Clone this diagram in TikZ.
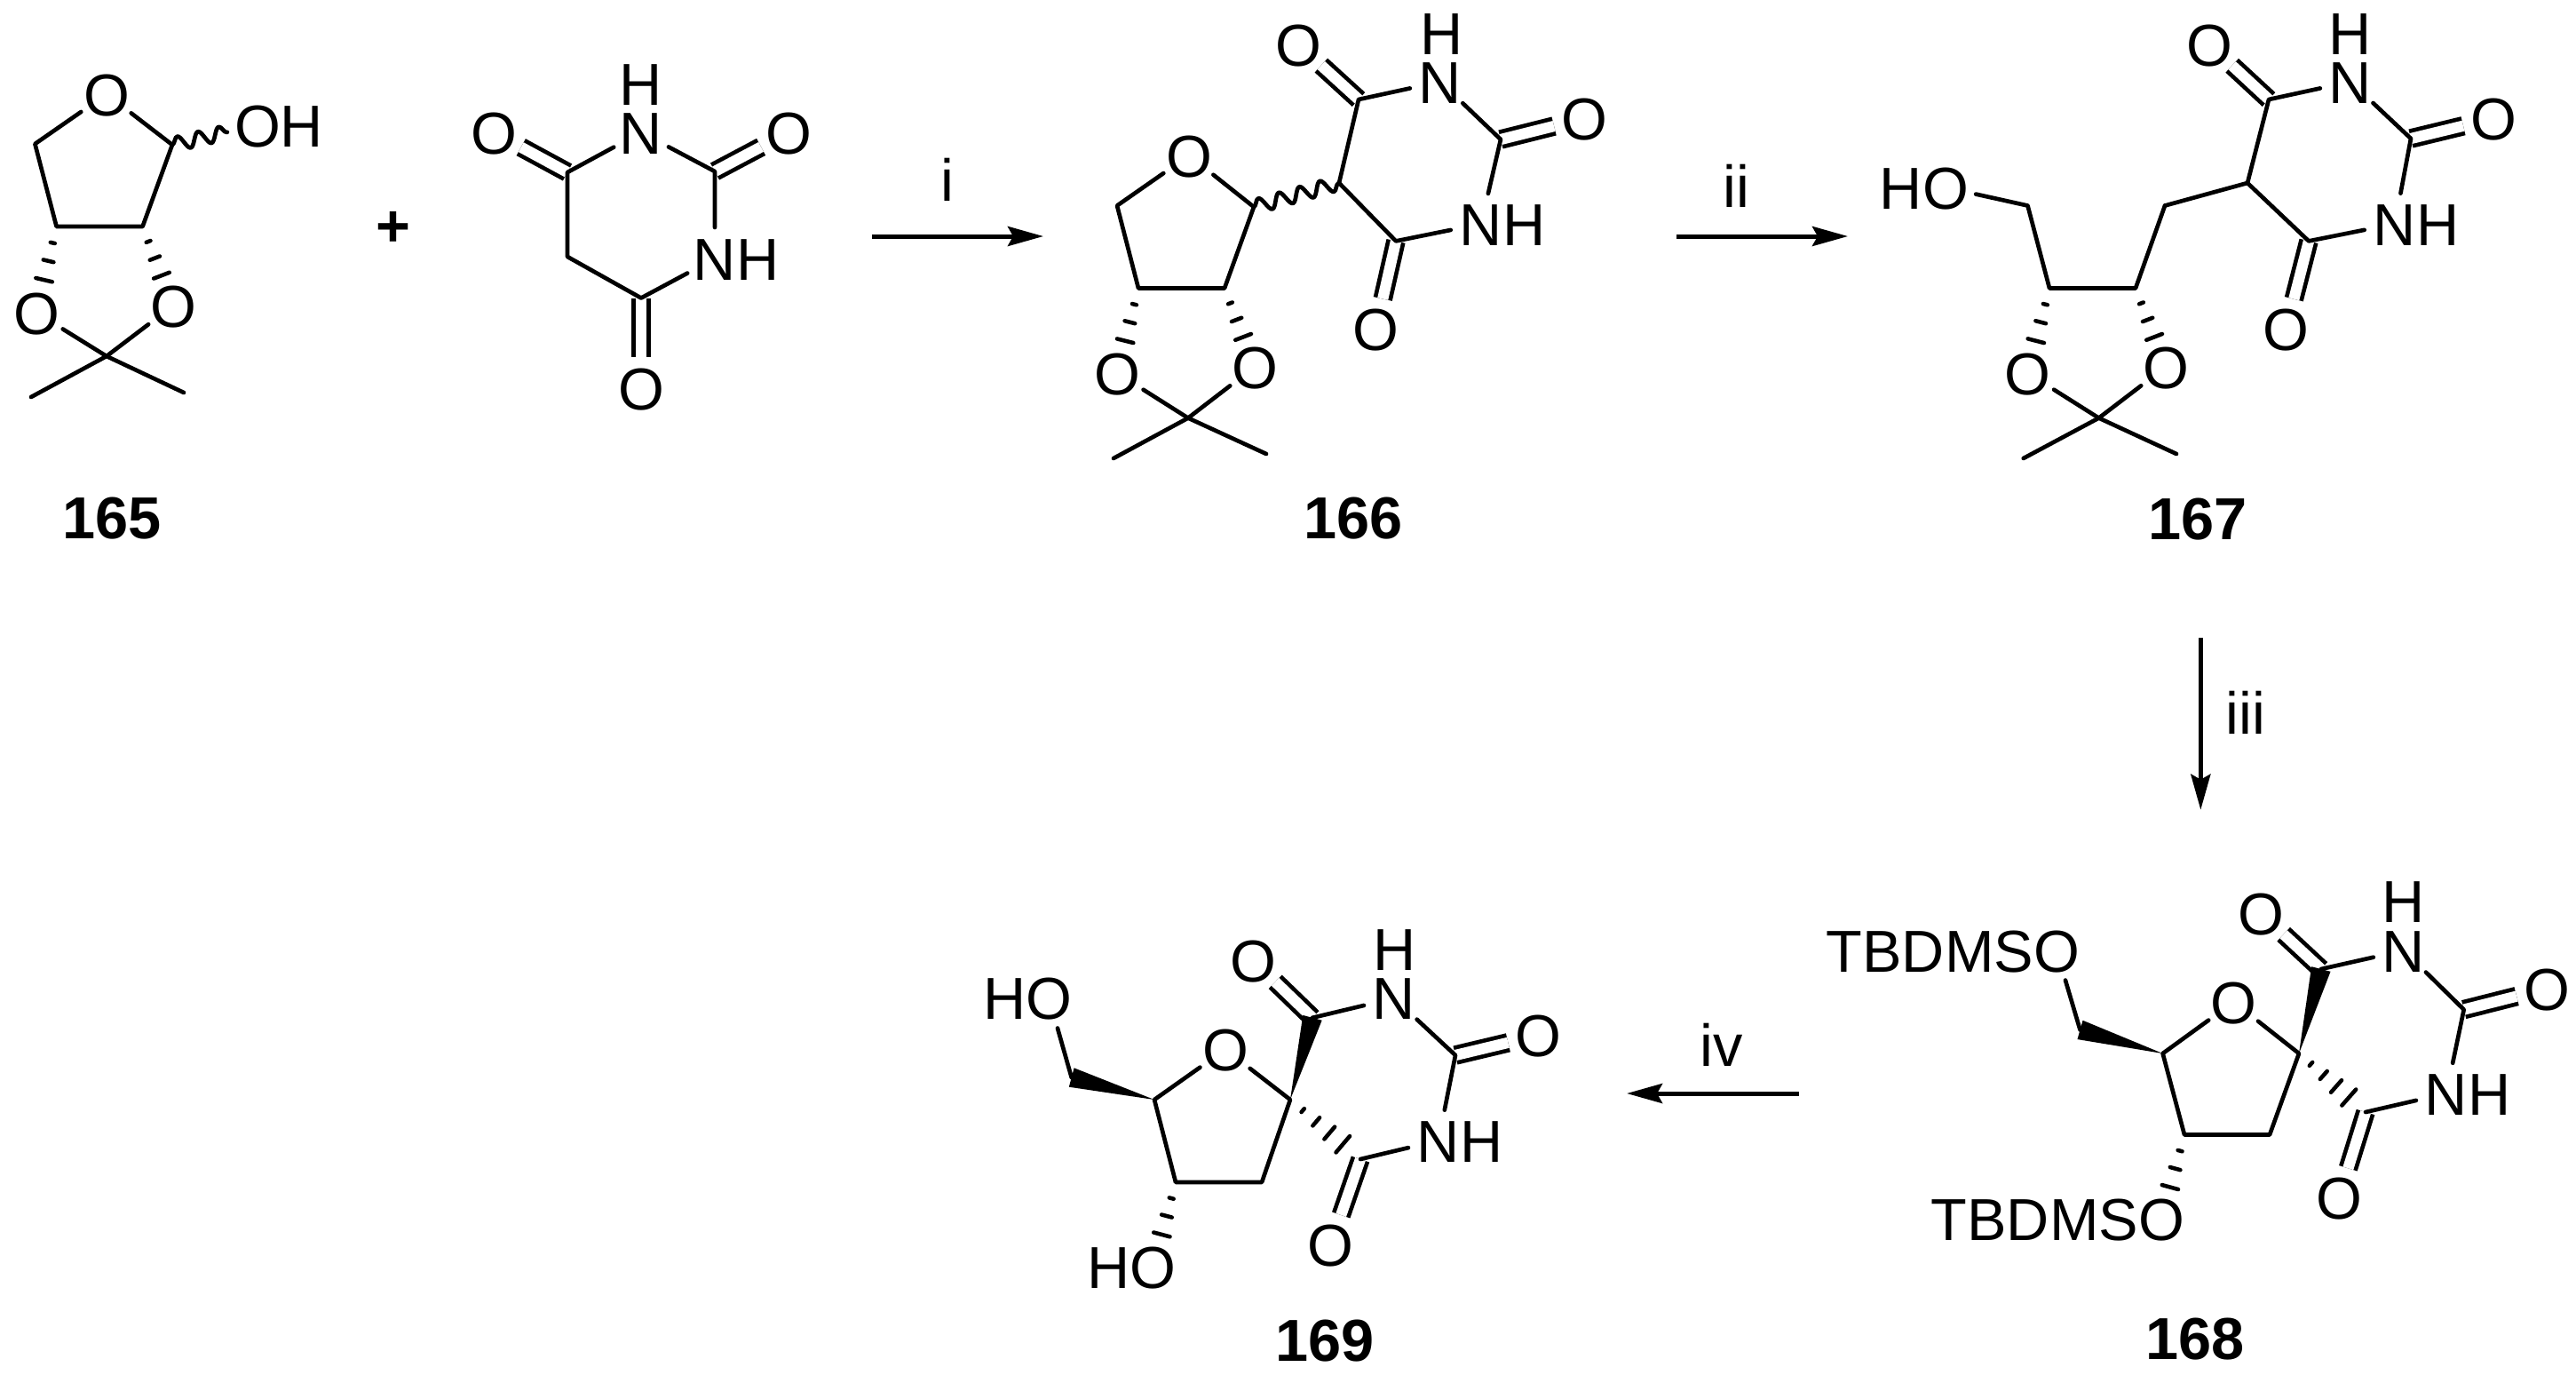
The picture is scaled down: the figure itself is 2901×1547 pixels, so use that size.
\documentclass[tikz,border=0pt]{standalone}
\usepackage{fontspec}
\setmainfont{Liberation Sans}
\usetikzlibrary{calc,arrows.meta,decorations.pathmorphing}

\newlength{\pix}
\setlength{\pix}{0.75pt}
\newcommand{\atomlab}[3]{\smash{\raisebox{-24\pix}{\makebox[0pt][c]{\phantom{#3}#1#2#3\phantom{#1}}}}}
\newcommand{\hashbond}[3]{\foreach \hpos/\hwid in #3 {\coordinate (hc) at ($(#1)!\hpos!(#2)$); \draw[hash] ($(hc)!\hwid pt!90:(#2)$) -- ($(hc)!\hwid pt!-90:(#2)$);}}
\newcommand{\wedgebond}[2]{\fill ($(#2)!8.3pt!90:(#1)$) -- ($(#2)!8.3pt!-90:(#1)$) -- (#1) -- cycle;}
\def\hashO{.19/1.9,.40/4.5,.62/7.1}
\def\hashC{.18/1.9,.37/4.5,.56/6.8,.75/9}
\tikzset{
  bond/.style={line width=3.5pt,line cap=round,line join=round},
  dbl/.style={line width=3.5pt,double,double distance=9.2pt},
  hash/.style={line width=3.4pt,line cap=round},
  wavy/.style={bond,decorate,decoration={snake,segment length=18pt,amplitude=6pt}},
  atom/.style={circle,inner sep=0pt,outer sep=0pt,minimum size=52.5pt,font=\fontsize{50}{60}\selectfont},
  cmpd/.style={inner sep=0pt,font=\fontsize{50}{60}\selectfont\bfseries},
  reag/.style={inner sep=0pt,font=\fontsize{50}{60}\selectfont},
  rxn/.style={line width=3.75pt,-{Stealth[length=30pt,width=16.5pt,inset=4.5pt]}}
}

\begin{document}
\begin{tikzpicture}[x=0.75pt,y=0.75pt,yscale=-1,xscale=1]
\useasboundingbox (0,0) rectangle (2901,1547);

%Compound 165 and the second reactant
\node[atom] (o1a) at (120,106) {\atomlab{}{O}{}};
\node[atom] (oha) at (290,141) {\atomlab{}{O}{H}};
\node[atom] (o2a) at (195,344) {\atomlab{}{O}{}};
\node[atom] (o3a) at (41,352) {\atomlab{}{O}{}};
\coordinate (c1a) at (194,163); \coordinate (c2a) at (160.6,255);
\coordinate (c3a) at (63.6,255); \coordinate (c4a) at (39.4,162);
\coordinate (cqa) at (120,401); \coordinate (me1a) at (35,447); \coordinate (me2a) at (207,442);
\draw[bond] (o1a) -- (c1a) -- (c2a) -- (c3a) -- (c4a) -- (o1a);
\draw[wavy] (c1a) -- (oha);
\hashbond{c2a}{o2a}{\hashO}
\hashbond{c3a}{o3a}{\hashO}
\draw[bond] (o3a) -- (cqa) -- (o2a);
\draw[bond] (me1a) -- (cqa) -- (me2a);

\node[atom] (h1b) at (722,94) {\atomlab{}{H}{}};
\node[atom] (n1b) at (722,149) {\atomlab{}{N}{}};
\node[atom] (n3b) at (805,291) {\atomlab{}{N}{H}};
\node[atom] (o4b) at (556,149) {\atomlab{}{O}{}};
\node[atom] (o2b) at (888,149) {\atomlab{}{O}{}};
\node[atom] (o6b) at (722,437) {\atomlab{}{O}{}};
\coordinate (c4b) at (639,194); \coordinate (c2b) at (805,193);
\coordinate (c5b) at (639,289); \coordinate (c6b) at (722,335.5);
\draw[dbl] (c4b) -- (o4b);
\draw[dbl] (c2b) -- (o2b);
\draw[dbl] (c6b) -- (o6b);
\draw[bond] (n1b) -- (c4b) -- (c5b) -- (c6b) -- (n3b) -- (c2b) -- (n1b);

% Text Node
\node[cmpd] (plus) at (443,258) {+};
\node[cmpd] (lab165) at (126,584) {165};

%Reaction arrow i
\coordinate (i1) at (982,266); \coordinate (i2) at (1175,266);
\draw[rxn] (i1) -- (i2);
\node[reag] (labi) at (1067,202) {i};

%Compound 166
\node[atom] (o1c) at (1339,175) {\atomlab{}{O}{}};
\node[atom] (o2c) at (1413,413) {\atomlab{}{O}{}};
\node[atom] (o3c) at (1258,420) {\atomlab{}{O}{}};
\coordinate (c1c) at (1412,233); \coordinate (c2c) at (1379,324.5);
\coordinate (c3c) at (1282,324.5); \coordinate (c4c) at (1258,231.5);
\coordinate (cqc) at (1338,470.6); \coordinate (me1c) at (1254,516); \coordinate (me2c) at (1426,511);
\draw[bond] (o1c) -- (c1c) -- (c2c) -- (c3c) -- (c4c) -- (o1c);
\hashbond{c2c}{o2c}{\hashO}
\hashbond{c3c}{o3c}{\hashO}
\draw[bond] (o3c) -- (cqc) -- (o2c);
\draw[bond] (me1c) -- (cqc) -- (me2c);
\node[atom] (h1c) at (1623.5,37) {\atomlab{}{H}{}};
\node[atom] (n1c) at (1622,92) {\atomlab{}{N}{}};
\node[atom] (n3c) at (1668,252) {\atomlab{}{N}{H}};
\node[atom] (o4c) at (1462,50) {\atomlab{}{O}{}};
\node[atom] (o2pc) at (1784,133.5) {\atomlab{}{O}{}};
\node[atom] (o6c) at (1549.5,370.6) {\atomlab{}{O}{}};
\coordinate (c5c) at (1508,206); \coordinate (c4pc) at (1530,112);
\coordinate (c2pc) at (1690,157); \coordinate (c6c) at (1572,271.4);
\draw[dbl] (c4pc) -- (o4c);
\draw[dbl] (c2pc) -- (o2pc);
\draw[dbl] (c6c) -- (o6c);
\draw[bond] (n1c) -- (c4pc) -- (c5c) -- (c6c) -- (n3c) -- (c2pc) -- (n1c);
\draw[wavy] (c1c) -- (c5c);
\node[cmpd] (lab166) at (1524,584) {166};

%Reaction arrow ii
\coordinate (ii1) at (1888,266); \coordinate (ii2) at (2081,266);
\draw[rxn] (ii1) -- (ii2);
\node[reag] (labii) at (1955,209) {ii};

%Compound 167
\node[atom] (ohd) at (2191,211) {\atomlab{H}{O}{}};
\node[atom] (o2d) at (2439,413) {\atomlab{}{O}{}};
\node[atom] (o3d) at (2283.5,420) {\atomlab{}{O}{}};
\coordinate (c4d) at (2283.5,231.5); \coordinate (c3d) at (2308,324.5);
\coordinate (c2d) at (2405,324.5); \coordinate (c1d) at (2438,231.5);
\coordinate (cqd) at (2363.6,470.6); \coordinate (me1d) at (2278.7,516); \coordinate (me2d) at (2451,511);
\draw[bond] (ohd) -- (c4d) -- (c3d) -- (c2d) -- (c1d);
\hashbond{c2d}{o2d}{\hashO}
\hashbond{c3d}{o3d}{\hashO}
\draw[bond] (o3d) -- (cqd) -- (o2d);
\draw[bond] (me1d) -- (cqd) -- (me2d);
\node[atom] (h1d) at (2647,37) {\atomlab{}{H}{}};
\node[atom] (n1d) at (2647,92) {\atomlab{}{N}{}};
\node[atom] (n3d) at (2697,252) {\atomlab{}{N}{H}};
\node[atom] (o4d) at (2488,50) {\atomlab{}{O}{}};
\node[atom] (o2pd) at (2808,133.5) {\atomlab{}{O}{}};
\node[atom] (o6d) at (2574.6,370.6) {\atomlab{}{O}{}};
\coordinate (c5d) at (2531,206); \coordinate (c4pd) at (2555,112);
\coordinate (c2pd) at (2715,156); \coordinate (c6d) at (2600,271.4);
\draw[dbl] (c4pd) -- (o4d);
\draw[dbl] (c2pd) -- (o2pd);
\draw[dbl] (c6d) -- (o6d);
\draw[bond] (n1d) -- (c4pd) -- (c5d) -- (c6d) -- (n3d) -- (c2pd) -- (n1d);
\draw[bond] (c1d) -- (c5d);
\node[cmpd] (lab167) at (2474.6,584.5) {167};

%Reaction arrow iii
\coordinate (iii1) at (2478.3,718); \coordinate (iii2) at (2478.3,911.7);
\draw[rxn] (iii1) -- (iii2);
\node[reag] (labiii) at (2529,802) {iii};

%Compound 168
\node[atom] (o1e) at (2515.5,1128) {\atomlab{}{O}{}};
\node[atom] (o5e) at (2316,1070) {\atomlab{TBDMS}{O}{}};
\node[atom] (o3e) at (2434,1372.7) {\atomlab{TBDMS}{O}{}};
\coordinate (c1e) at (2589,1186); \coordinate (c4e) at (2556,1277.5);
\coordinate (c3e) at (2460,1277.5); \coordinate (c2e) at (2435.6,1186);
\coordinate (ch2e) at (2342.5,1159.4); \coordinate (c4pe) at (2613.8,1091);
\coordinate (c6e) at (2664,1252); \coordinate (c2pe) at (2774.7,1136.6);
\node[atom] (h1e) at (2707,1014.7) {\atomlab{}{H}{}};
\node[atom] (n1e) at (2707,1070) {\atomlab{}{N}{}};
\node[atom] (n3e) at (2755,1231) {\atomlab{}{N}{H}};
\node[atom] (o4e) at (2546,1028) {\atomlab{}{O}{}};
\node[atom] (o2pe) at (2868,1113) {\atomlab{}{O}{}};
\node[atom] (o6e) at (2634,1348.7) {\atomlab{}{O}{}};
\draw[dbl] (c4pe) -- (o4e);
\draw[dbl] (c2pe) -- (o2pe);
\draw[dbl] (c6e) -- (o6e);
\draw[bond] (o1e) -- (c1e) -- (c4e) -- (c3e) -- (c2e) -- (o1e);
\draw[bond] (ch2e) -- (o5e);
\wedgebond{c2e}{ch2e}
\wedgebond{c1e}{c4pe}
\hashbond{c3e}{o3e}{\hashO}
\hashbond{c1e}{c6e}{\hashC}
\draw[bond] (n1e) -- (c4pe);
\draw[bond] (c6e) -- (n3e) -- (c2pe) -- (n1e);
\node[cmpd] (lab168) at (2472,1508) {168};

%Reaction arrow iv
\coordinate (iv1) at (2026,1231); \coordinate (iv2) at (1832,1231);
\draw[rxn] (iv1) -- (iv2);
\node[reag] (labiv) at (1939,1176) {iv};

%Compound 169
\node[atom] (o1f) at (1380,1181.4) {\atomlab{}{O}{}};
\node[atom] (o5f) at (1181.4,1123.8) {\atomlab{H}{O}{}};
\node[atom] (o3f) at (1298.8,1426) {\atomlab{H}{O}{}};
\coordinate (c1f) at (1453,1238); \coordinate (c4f) at (1421,1331);
\coordinate (c3f) at (1324,1331); \coordinate (c2f) at (1300,1238);
\coordinate (ch2f) at (1206.7,1213); \coordinate (c4pf) at (1478,1145.8);
\coordinate (c6f) at (1532,1305); \coordinate (c2pf) at (1639,1188);
\node[atom] (h1f) at (1571,1068) {\atomlab{}{H}{}};
\node[atom] (n1f) at (1570,1123.8) {\atomlab{}{N}{}};
\node[atom] (n3f) at (1620,1284) {\atomlab{}{N}{H}};
\node[atom] (o4f) at (1411,1081) {\atomlab{}{O}{}};
\node[atom] (o2pf) at (1732.4,1165.7) {\atomlab{}{O}{}};
\node[atom] (o6f) at (1498.8,1401) {\atomlab{}{O}{}};
\draw[dbl] (c4pf) -- (o4f);
\draw[dbl] (c2pf) -- (o2pf);
\draw[dbl] (c6f) -- (o6f);
\draw[bond] (o1f) -- (c1f) -- (c4f) -- (c3f) -- (c2f) -- (o1f);
\draw[bond] (ch2f) -- (o5f);
\wedgebond{c2f}{ch2f}
\wedgebond{c1f}{c4pf}
\hashbond{c3f}{o3f}{\hashO}
\hashbond{c1f}{c6f}{\hashC}
\draw[bond] (n1f) -- (c4pf);
\draw[bond] (c6f) -- (n3f) -- (c2pf) -- (n1f);
\node[cmpd] (lab169) at (1492,1510) {169};

\end{tikzpicture}
\end{document}
